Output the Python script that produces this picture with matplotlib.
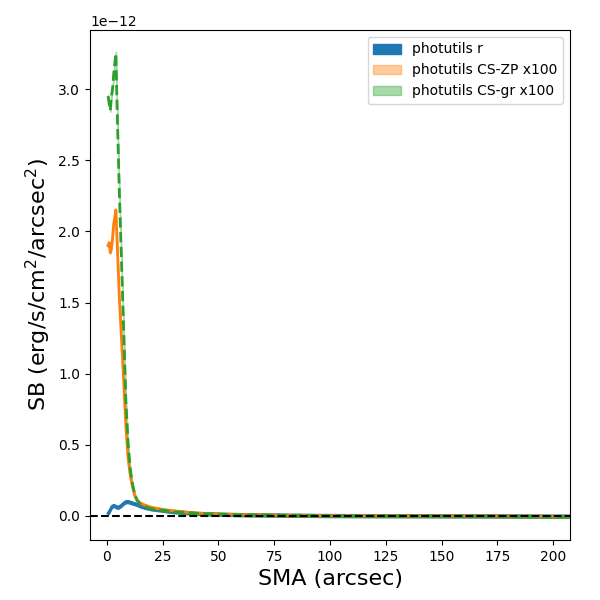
import matplotlib
matplotlib.use("Agg")
import matplotlib.pyplot as plt
import numpy as np

sma = np.array([0.5, 1.0, 1.5, 2.0, 2.5, 3.0, 3.5, 4.0, 4.5, 5.0, 5.5, 6.5, 7.5, 8.5, 9.5, 10.5, 11.5,
                12.5, 13.5, 15, 17, 20, 25, 30, 40, 50, 65, 80, 100, 125, 150, 175, 200, 210])
sb_r = np.array([0.02, 0.03, 0.045, 0.06, 0.07, 0.072, 0.07, 0.065, 0.062, 0.06, 0.065, 0.075, 0.09, 0.1,
                 0.1, 0.095, 0.09, 0.085, 0.08, 0.07, 0.06, 0.05, 0.04, 0.03, 0.018, 0.012, 0.008, 0.005,
                 0.003, 0.002, 0.001, 0.0, -0.002, -0.002])
sb_zp = np.array([1.9, 1.92, 1.85, 1.88, 1.95, 2.05, 2.1, 2.15, 1.95, 1.75, 1.55, 1.25, 0.95, 0.62,
                  0.4, 0.28, 0.2, 0.14, 0.11, 0.09, 0.075, 0.06, 0.045, 0.035, 0.02, 0.013, 0.008, 0.005,
                  0.003, 0.002, 0.001, 0.0, -0.003, -0.003])
sb_gr = np.array([2.95, 2.9, 2.85, 2.95, 3.0, 3.1, 3.18, 3.25, 2.9, 2.6, 2.3, 1.8, 1.3, 0.8,
                  0.5, 0.32, 0.22, 0.15, 0.11, 0.08, 0.065, 0.05, 0.04, 0.03, 0.018, 0.012, 0.007, 0.004,
                  0.002, 0.001, 0.0, -0.002, -0.004, -0.004])
scale = 1e-12
err = 0.01

fig, ax = plt.subplots(figsize=(6, 6), dpi=100)
fig.subplots_adjust(left=0.15, right=0.95, top=0.95, bottom=0.1)

ax.fill_between(sma, (sb_r - err) * scale, (sb_r + err) * scale, color='C0', label='photutils r')
ax.fill_between(sma, (sb_zp - err) * scale, (sb_zp + err) * scale, color='C1', alpha=0.4, label='photutils CS-ZP x100')
ax.fill_between(sma, (sb_gr - err) * scale, (sb_gr + err) * scale, color='C2', alpha=0.4, label='photutils CS-gr x100')
ax.plot(sma, sb_r * scale, color='C0', lw=2)
ax.plot(sma, sb_zp * scale, color='C1', lw=2)
ax.plot(sma, sb_gr * scale, color='C2', lw=2, ls='--')
ax.axhline(0, color='k', ls='--')

ax.set_xlim(-7.6, 207.6)
ax.set_ylim(-0.169e-12, 3.415e-12)
ax.set_xlabel('SMA (arcsec)', fontsize=16)
ax.set_ylabel(r'SB (erg/s/cm$^2$/arcsec$^2$)', fontsize=16)
ax.legend(loc='upper right')
plt.savefig('out.png')
